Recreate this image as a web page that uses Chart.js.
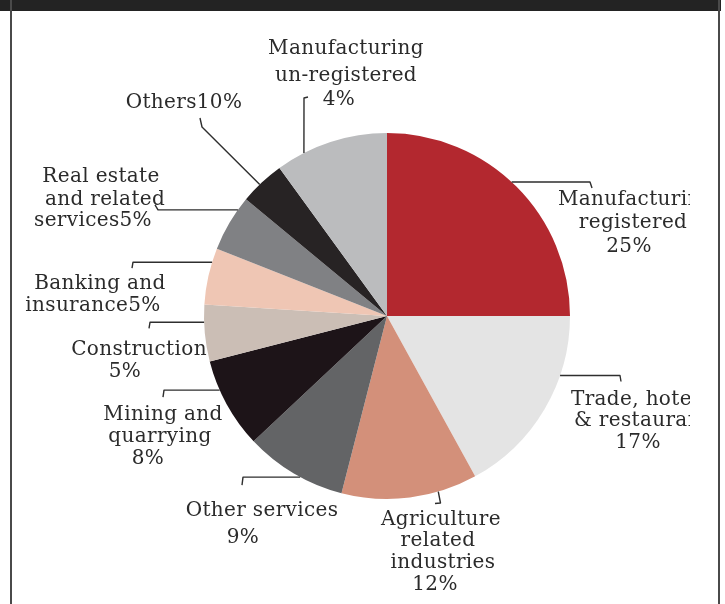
<!DOCTYPE html>
<html>
<head>
<meta charset="utf-8">
<script src="https://cdn.jsdelivr.net/npm/chart.js"></script>
<style>
  html, body { margin: 0; padding: 0; background: #fff; }
  #wrap { position: relative; width: 725px; height: 604px; overflow: hidden; }
  #wrap canvas { position: absolute; left: 0; top: 0; }
  .band { position: absolute; left: 0; top: 0; width: 721px; height: 11px; background: #232323; }
  .side { position: absolute; top: 0; width: 2px; height: 604px; background: #4a4a4a; }
</style>
</head>
<body>
<div id="wrap">
  <canvas id="pie" width="725" height="604"></canvas>
  <div class="band"></div>
  <div class="side" style="left:10px"></div>
  <div class="side" style="left:718px"></div>
</div>
<script>
// sector shares of output, clockwise from 12 o'clock
const categories = [
  'Manufacturing registered',
  'Trade, hotels & restaurants',
  'Agriculture related industries',
  'Other services',
  'Mining and quarrying',
  'Construction',
  'Banking and insurance',
  'Real estate and related services',
  'Manufacturing un-registered',
  'Others'
];
const shares = [25, 17, 12, 9, 8, 5, 5, 5, 4, 10];
const colours = [
  '#b3282f', '#e4e4e4', '#d3907a', '#636466', '#1d1418',
  '#cbbeb5', '#efc6b4', '#808184', '#272324', '#bbbcbe'
];

const pct = i => shares[i] + '%';

// text blocks: cat = category whose value is shown, slice = wedge the leader touches
const labels = [
  { cat: 0, slice: 0, at: 0.477,
    lines: [['Manufacturing', 558, 200, 'left'], ['registered', 633, 223], [pct(0), 629, 247]],
    leader: p => [[p.x, p.y], [590, p.y], [592, p.y + 6]] },
  { cat: 1, slice: 1, at: 0.31,
    lines: [['Trade, hotels', 571, 400, 'left'], ['& restaurants', 574, 421, 'left'], [pct(1), 638, 443]],
    leader: p => [[p.x, p.y], [620, p.y], [621, p.y + 6]] },
  { cat: 2, slice: 2, at: 0.29,
    lines: [['Agriculture', 441, 520], ['related', 438, 541], ['industries', 443, 563], [pct(2), 435, 585]],
    leader: p => [[p.x, p.y], [440.5, 503], [435, 503.5]] },
  { cat: 3, slice: 3, at: 0.43,
    lines: [['Other services', 262, 511], [pct(3), 243, 538]],
    leader: p => [[p.x, p.y], [243, p.y], [242, p.y + 8]] },
  { cat: 4, slice: 4, at: 0.67,
    lines: [['Mining and', 163, 415], ['quarrying', 160, 437], [pct(4), 148, 459]],
    leader: p => [[p.x, p.y], [164, p.y], [163, p.y + 7]] },
  { cat: 5, slice: 5, at: 0.69,
    lines: [['Construction', 139, 350], [pct(5), 125, 372]],
    leader: p => [[p.x, p.y], [150, p.y], [149, p.y + 6]] },
  { cat: 6, slice: 6, at: 0.75,
    lines: [['Banking and', 100, 284], ['insurance' + pct(6), 93, 306]],
    leader: p => [[p.x, p.y], [133, p.y], [132, p.y + 6]] },
  { cat: 7, slice: 7, at: 0.77,
    lines: [['Real estate', 101, 177], ['and related', 105, 200], ['services' + pct(7), 93, 221]],
    leader: p => [[p.x, p.y], [158, p.y], [155, p.y - 5]] },
  { cat: 9, slice: 8, at: 0.44,
    lines: [['Others' + pct(9), 184, 103]],
    leader: p => [[p.x, p.y], [202, 127], [200, 118]] },
  { cat: 8, slice: 9, at: 0.25,
    lines: [['Manufacturing', 346, 49], ['un-registered', 346, 76], [pct(8), 339, 100]],
    leader: p => [[p.x, p.y], [304, 98], [308, 97]] }
];

const calloutPlugin = {
  id: 'callouts',
  afterDatasetsDraw(chart) {
    const ctx = chart.ctx;
    const arcs = chart.getDatasetMeta(0).data;
    ctx.save();
    ctx.beginPath();
    ctx.rect(0, 0, 690, 604);
    ctx.clip();
    ctx.strokeStyle = '#2e2e2e';
    ctx.lineWidth = 1.4;
    ctx.lineJoin = 'round';
    ctx.fillStyle = '#2b2b2b';
    ctx.font = '20px "DejaVu Serif"';
    ctx.letterSpacing = '0.35px';
    ctx.textBaseline = 'middle';
    labels.forEach(l => {
      const a = arcs[l.slice];
      const ang = a.startAngle + (a.endAngle - a.startAngle) * l.at;
      const p = { x: a.x + a.outerRadius * Math.cos(ang), y: a.y + a.outerRadius * Math.sin(ang) };
      const pts = l.leader(p);
      ctx.beginPath();
      pts.forEach((q, k) => k ? ctx.lineTo(q[0], q[1]) : ctx.moveTo(q[0], q[1]));
      ctx.stroke();
      l.lines.forEach(([t, x, y, align]) => {
        ctx.textAlign = align || 'center';
        ctx.fillText(t, x, y);
      });
    });
    ctx.restore();
  }
};

new Chart(document.getElementById('pie').getContext('2d'), {
  type: 'pie',
  data: {
    labels: categories,
    datasets: [{
      data: shares,
      backgroundColor: colours,
      borderWidth: 0
    }]
  },
  options: {
    responsive: false,
    animation: false,
    layout: { padding: { left: 204, right: 155, top: 133, bottom: 105 } },
    plugins: {
      legend: { display: false },
      tooltip: { enabled: false }
    }
  },
  plugins: [calloutPlugin]
});
</script>
</body>
</html>
